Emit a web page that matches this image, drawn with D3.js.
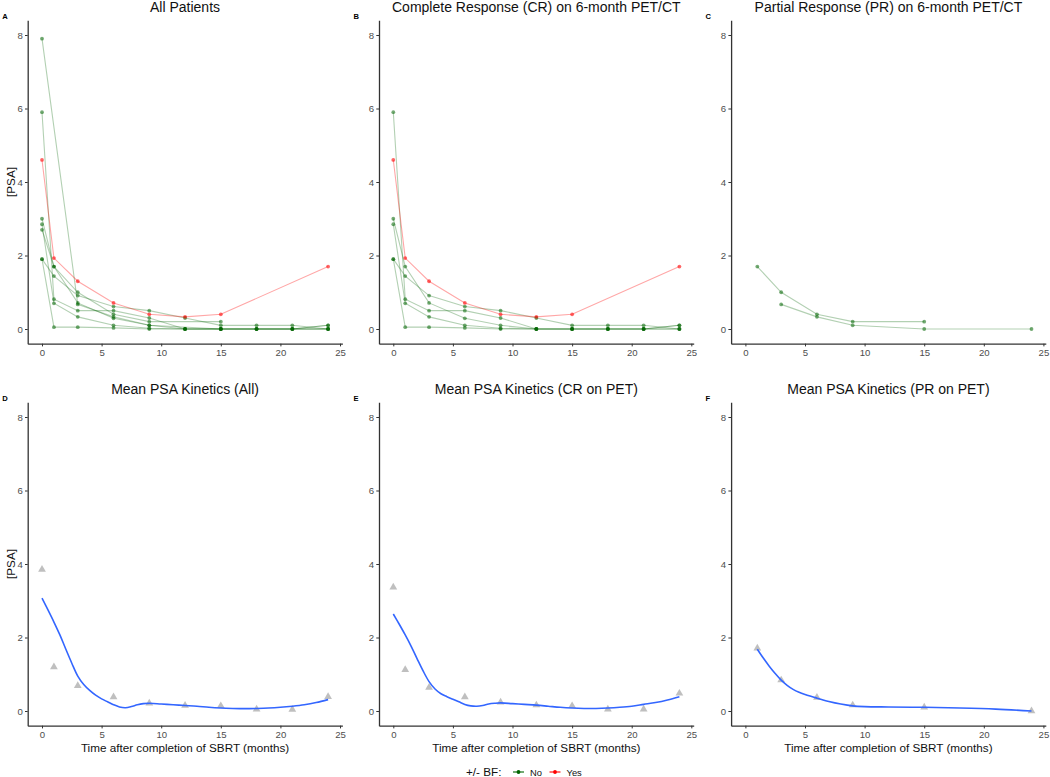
<!DOCTYPE html>
<html><head><meta charset="utf-8">
<script src="https://cdn.jsdelivr.net/npm/d3@7"></script>
<style>body{margin:0;background:#fff} svg{display:block;font-family:"Liberation Sans",Arial,sans-serif}</style>
</head><body><svg id="c" width="1050" height="777"></svg>
<script>
// ---------- data ----------
const months = [0, 1, 3, 6, 9, 12, 15, 18, 21, 24];
const xTicks = [0, 5, 10, 15, 20, 25];
const yTicks = [0, 2, 4, 6, 8];

// Complete responders (panel B)
const crYes1 = [4.6, 1.93, 1.3, 0.71, 0.4, 0.33, 0.4, null, null, 1.7];
const crNo1 = [5.9, 0.81, 0.5, 0.5, 0.3, 0.0, 0.0, 0.0, 0.0, 0.0];
const crNo2 = [3.0, 1.7, 0.71, 0.29, 0.1, 0.0, 0.0, 0.0, 0.0, 0.1];
const crNo3 = [2.85, 0.7, 0.33, 0.1, 0.02, 0.0, 0.0, 0.0, 0.0, 0.0];
const crNo4 = [1.9, 1.44, 0.91, 0.61, 0.5, 0.3, 0.1, 0.1, 0.1, 0.0];
const crNo5 = [1.9, 0.05, 0.05, 0.03, 0.0, 0.0, 0.0, 0.0, 0.0, 0.1];
// Partial responders (panel C)
const prNo1 = [null, 1.7, 1.0, 0.4, 0.2, null, 0.2, null, null, null];
const prNo2 = [null, null, 0.67, 0.33, 0.1, null, 0.0, null, null, 0.0];
const prBaseline = [2.7, 7.9]; // month-0 values shown only in "All Patients"

// Mean PSA per time point (triangles)
const meanAll = [3.85, 1.2, 0.69, 0.38, 0.21, 0.15, 0.14, 0.05, 0.04, 0.39];
const meanCR = [3.37, 1.12, 0.64, 0.38, 0.24, 0.16, 0.14, 0.05, 0.05, 0.48];
const meanPR = [null, 1.71, 0.84, 0.37, 0.16, null, 0.1, null, null, 0.0];

// Smoothed (loess) curves
const smoothAllX = [0,0.5,1,1.5,2,2.5,3,3.5,4,4.5,5,5.5,6,6.5,7,7.5,8,8.5,9,10,11,12,13,14,15,16,17,18,19,20,21,22,23,24];
const smoothAllY = [3.07,2.75,2.42,2.07,1.68,1.3,0.95,0.72,0.56,0.43,0.33,0.25,0.17,0.11,0.09,0.12,0.17,0.2,0.21,0.19,0.17,0.15,0.13,0.1,0.08,0.07,0.065,0.07,0.08,0.1,0.13,0.17,0.23,0.31];
const smoothCRX = smoothAllX;
const smoothCRY = [2.64,2.36,2.07,1.76,1.42,1.09,0.8,0.6,0.47,0.39,0.32,0.25,0.18,0.14,0.13,0.15,0.19,0.21,0.22,0.2,0.18,0.16,0.13,0.1,0.08,0.07,0.07,0.08,0.1,0.13,0.18,0.23,0.3,0.39];
const smoothPRX = [1,1.5,2,2.5,3,3.5,4,4.5,5,6,7,8,9,10,12,15,18,21,24];
const smoothPRY = [1.68,1.44,1.22,1.02,0.84,0.7,0.59,0.51,0.45,0.35,0.26,0.19,0.14,0.12,0.11,0.1,0.08,0.05,0.0];

const titles = ["All Patients", "Complete Response (CR) on 6-month PET/CT", "Partial Response (PR) on 6-month PET/CT",
  "Mean PSA Kinetics (All)", "Mean PSA Kinetics (CR on PET)", "Mean PSA Kinetics (PR on PET)"];
const letters = ["A", "B", "C", "D", "E", "F"];
const bfLevels = ["No", "Yes"];

// ---------- build ----------
const colorBF = {No: "#006400", Yes: "#ff0000"};
const toPts = (vals, xs) => (xs || months).map((m, i) => ({x: m, y: vals[i]})).filter(d => d.y != null);

const crSeries = [
  {bf: "No", pts: toPts(crNo1)}, {bf: "No", pts: toPts(crNo2)}, {bf: "No", pts: toPts(crNo3)},
  {bf: "No", pts: toPts(crNo4)}, {bf: "No", pts: toPts(crNo5)}, {bf: "Yes", pts: toPts(crYes1)}];
const prSeries = [{bf: "No", pts: toPts(prNo1)}, {bf: "No", pts: toPts(prNo2)}];
const allSeries = crSeries.slice(0, 5)
  .concat(prSeries.map((s, i) => ({bf: s.bf, pts: [{x: 0, y: prBaseline[i]}].concat(s.pts)})))
  .concat([crSeries[5]]);

const svg = d3.select("#c");
const cols = [[27.7, 342.4], [379, 693.7], [731.1, 1045.8]];
const rows = [[343.7, 20.3], [725.7, 402.3]];

function panel(idx) {
  const c = idx % 3, r = Math.floor(idx / 3);
  const x = d3.scaleLinear().domain([-1.2, 25.2]).range(cols[c]);
  const y = d3.scaleLinear().domain([-0.4, 8.4]).range(rows[r]);
  const g = svg.append("g");

  // axes
  const ax = g.append("g").attr("transform", `translate(0,${rows[r][0]})`)
    .call(d3.axisBottom(x).tickValues(xTicks).tickSize(2.7).tickPadding(3.2).tickSizeOuter(0));
  const ay = g.append("g").attr("transform", `translate(${cols[c][0]},0)`)
    .call(d3.axisLeft(y).tickValues(yTicks).tickSize(2.7).tickPadding(2.2).tickSizeOuter(0));
  [ax, ay].forEach(a => {
    a.select(".domain").attr("stroke", "#333").attr("stroke-width", 1.3);
    a.selectAll(".tick line").attr("stroke", "#333").attr("stroke-width", 1);
    a.selectAll(".tick text").attr("fill", "#4d4d4d").attr("font-size", 9.6)
      .attr("font-family", '"Liberation Sans",Arial,sans-serif');
  });

  // titles
  g.append("text").attr("x", (cols[c][0] + cols[c][1]) / 2).attr("y", rows[r][1] - 8.3)
    .attr("text-anchor", "middle").attr("font-size", 14).attr("fill", "#111").text(titles[idx]);
  g.append("text").attr("x", cols[c][0] - 25.5).attr("y", rows[r][1] - 1.3)
    .attr("font-size", 7.6).attr("font-weight", "bold").attr("fill", "#000").text(letters[idx]);
  if (c === 0) {
    g.append("text").attr("transform", `translate(15,${(rows[r][0] + rows[r][1]) / 2}) rotate(-90)`)
      .attr("text-anchor", "middle").attr("font-size", 11.7).attr("fill", "#111").text("[PSA]");
  }
  if (r === 1) {
    g.append("text").attr("x", (cols[c][0] + cols[c][1]) / 2).attr("y", 752)
      .attr("text-anchor", "middle").attr("font-size", 11.7).attr("fill", "#111")
      .text("Time after completion of SBRT (months)");
  }

  const line = d3.line().x(d => x(d.x)).y(d => y(d.y));
  if (r === 0) {
    const series = [allSeries, crSeries, prSeries][c];
    series.forEach(s => {
      g.append("path").attr("d", line(s.pts)).attr("fill", "none")
        .attr("stroke", colorBF[s.bf]).attr("stroke-width", 1.1)
        .attr("stroke-opacity", s.bf === "Yes" ? 0.35 : 0.3);
    });
    series.forEach(s => {
      g.selectAll(null).data(s.pts).enter().append("circle")
        .attr("cx", d => x(d.x)).attr("cy", d => y(d.y)).attr("r", 1.9)
        .attr("fill", colorBF[s.bf]).attr("fill-opacity", s.bf === "Yes" ? 0.6 : 0.55);
    });
  } else {
    const means = [meanAll, meanCR, meanPR][c];
    const sx = [smoothAllX, smoothCRX, smoothPRX][c];
    const sy = [smoothAllY, smoothCRY, smoothPRY][c];
    const tri = d3.symbol().type(d3.symbolTriangle).size(26);
    g.selectAll(null).data(toPts(means)).enter().append("path")
      .attr("d", tri).attr("transform", d => `translate(${x(d.x)},${y(d.y)})`)
      .attr("fill", "#a9a9a9").attr("fill-opacity", 0.75);
    const sm = sx.map((v, i) => ({x: v, y: sy[i]}));
    g.append("path").attr("d", d3.line().x(d => x(d.x)).y(d => y(d.y)).curve(d3.curveCatmullRom)(sm))
      .attr("fill", "none").attr("stroke", "#3366ff").attr("stroke-width", 1.6);
  }
}
for (let i = 0; i < 6; i++) panel(i);

// legend
const lg = svg.append("g").attr("font-size", 9.4).attr("fill", "#111");
lg.append("text").attr("x", 466).attr("y", 776).attr("font-size", 11.7).text("+/- BF:");
const keyX = [513, 549.5];
bfLevels.forEach((lv, i) => {
  lg.append("line").attr("x1", keyX[i]).attr("x2", keyX[i] + 11).attr("y1", 772).attr("y2", 772)
    .attr("stroke", colorBF[lv]).attr("stroke-width", 1.1);
  lg.append("circle").attr("cx", keyX[i] + 5.5).attr("cy", 772).attr("r", 1.9).attr("fill", colorBF[lv]);
  lg.append("text").attr("x", keyX[i] + 17).attr("y", 775.5).text(lv);
});
</script></body></html>
